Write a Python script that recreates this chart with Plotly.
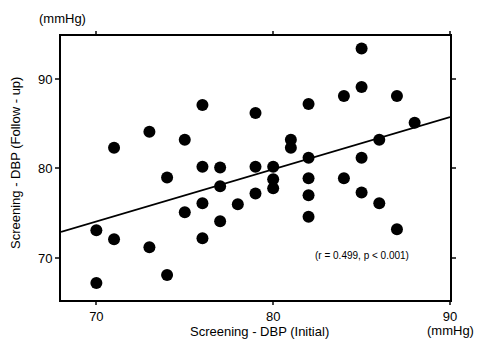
import plotly.graph_objects as go

initial_dbp = [70, 70, 71, 71, 73, 73, 74, 74, 75, 75, 76, 76, 76, 76, 77, 77, 77, 78,
               79, 79, 79, 80, 80, 80, 81, 81, 82, 82, 82, 82, 82, 84, 84, 85, 85, 85,
               85, 86, 86, 87, 87, 88]
followup_dbp = [73.1, 67.2, 82.3, 72.1, 84.1, 71.2, 79.0, 68.1, 83.2, 75.1, 87.1, 80.2,
                76.1, 72.2, 80.1, 78.0, 74.1, 76.0, 86.2, 80.2, 77.2, 80.2, 78.8, 77.8,
                83.2, 82.3, 87.2, 81.2, 78.9, 77.0, 74.6, 88.1, 78.9, 93.4, 89.1, 81.2,
                77.3, 83.2, 76.1, 88.1, 73.2, 85.1]
fit_x = [68, 90]
fit_y = [72.9, 85.75]
x_ticks = [70, 80, 90]
y_ticks = [70, 80, 90]
stats_text = "(r = 0.499, p < 0.001)"

font = "Liberation Sans, Arial, sans-serif"

fig = go.Figure()
fig.add_trace(go.Scatter(x=fit_x, y=fit_y, mode="lines",
                         line=dict(color="black", width=1.8), showlegend=False))
fig.add_trace(go.Scatter(x=initial_dbp, y=followup_dbp, mode="markers",
                         marker=dict(color="black", size=12), showlegend=False))

fig.update_layout(
    width=478, height=343,
    margin=dict(l=61, r=28, t=36, b=43),
    plot_bgcolor="white", paper_bgcolor="white",
    font=dict(family=font, color="black", size=12),
)
fig.update_xaxes(range=[68, 90], tickvals=x_ticks, ticks="outside", ticklen=3,
                 tickwidth=1.5, showline=True, linecolor="black", linewidth=2,
                 mirror="ticks", showgrid=False, zeroline=False,
                 tickfont=dict(size=13))
fig.update_yaxes(range=[65.3, 94.8], tickvals=y_ticks, ticks="outside", ticklen=4,
                 tickwidth=1.5, showline=True, linecolor="black", linewidth=2,
                 mirror="ticks", showgrid=False, zeroline=False,
                 tickfont=dict(size=13))

fig.add_annotation(text="Screening - DBP (Initial)", xref="paper", yref="paper",
                   x=(259 - 61) / 389, y=-(331 - 300) / 264, showarrow=False,
                   font=dict(size=13), xanchor="center", yanchor="middle")
fig.add_annotation(text="Screening - DBP (Follow - up)", xref="paper", yref="paper",
                   x=-(61 - 15) / 389, y=(300 - 163) / 264, showarrow=False,
                   textangle=-90, font=dict(size=13), xanchor="center", yanchor="middle")
fig.add_annotation(text="(mmHg)", xref="paper", yref="paper",
                   x=-(61 - 62) / 389, y=(300 - 18) / 264, showarrow=False,
                   font=dict(size=13), xanchor="center", yanchor="middle")
fig.add_annotation(text="(mmHg)", xref="paper", yref="paper",
                   x=(450 - 61) / 389, y=-(330 - 300) / 264, showarrow=False,
                   font=dict(size=13), xanchor="center", yanchor="middle")
fig.add_annotation(text=stats_text, x=85.0, y=70.3, xref="x", yref="y",
                   showarrow=False, font=dict(size=10), xanchor="center", yanchor="middle")

fig.write_html("out.html")
